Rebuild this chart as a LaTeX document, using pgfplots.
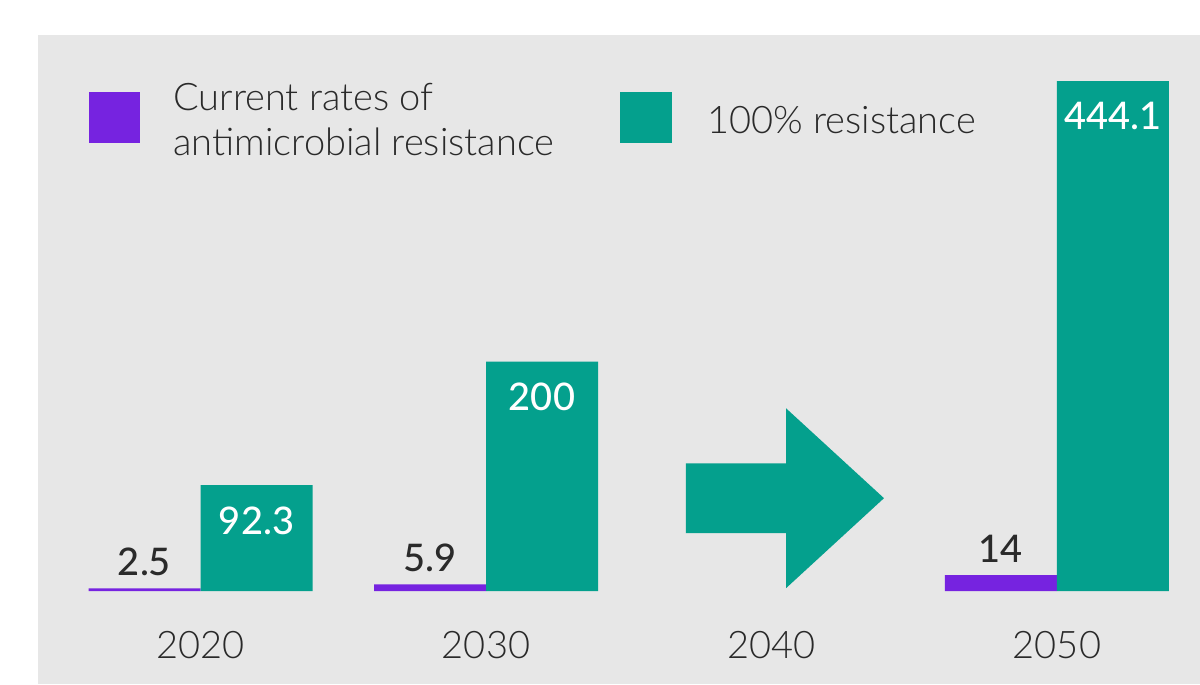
\documentclass[border=0pt]{standalone}
\usepackage{fontspec}
\setmainfont{Lato Light}
\newfontfamily\medfont{Lato Medium}
\usepackage{pgfplots}
\pgfplotsset{compat=1.18}
\definecolor{amrpurple}{HTML}{7623E0}
\definecolor{amrgreen}{HTML}{04A08D}
\definecolor{panelgray}{HTML}{E7E7E7}
\definecolor{labelgray}{HTML}{2A2A2A}

\begin{document}
\begin{tikzpicture}
% white page with the grey panel behind the chart
\fill[white] (0,0) rectangle (600pt,342pt);
\fill[panelgray] (19pt,0) rectangle (600pt,324.5pt);
\begin{axis}[
  at={(0,0)}, anchor=south west,
  scale only axis, width=600pt, height=342pt,
  xmin=-0.7023, xmax=3.5009, ymin=-80.97, ymax=514.6,
  axis line style={draw=none},
  ytick=\empty,
  xtick={0,1,2,3}, xticklabels={2020,2030,2040,2050},
  major tick length=0pt,
  xticklabel style={anchor=base, yshift=13pt, font=\fontsize{19}{22}\selectfont, text=labelgray},
  clip=false,
]
% current rates of antimicrobial resistance
\addplot[ybar, bar width=0.3923, bar shift=-0.19615, fill=amrpurple, draw=none,
  point meta=explicit symbolic, nodes near coords,
  every node near coord/.append style={anchor=base, inner sep=0pt, yshift=6.5pt, xshift=-28pt,
    font=\medfont\fontsize{19}{22}\selectfont, text=labelgray}]
  coordinates {(0,2.5)[2.5] (1,5.9)[5.9] (3,14)[14]};

% 100% resistance
\addplot[ybar, bar width=0.3923, bar shift=0.19615, fill=amrgreen, draw=none,
  point meta=explicit symbolic, nodes near coords,
  every node near coord/.append style={anchor=north, inner sep=0pt, yshift=-10.5pt, xshift=28pt,
    font=\medfont\fontsize{19}{22}\selectfont, text=white}]
  coordinates {(0,92.3)[92.3] (1,200)[200] (3,444.1)[444.1]};

% arrow standing in for 2040
\addplot[fill=amrgreen, draw=none] coordinates {
  (1.7005,50.5) (1.7005,111.4) (2.0508,111.4) (2.0508,159.3)
  (2.3940,81.0) (2.0508,2.6) (2.0508,50.5)};

% legend
\fill[amrpurple] (rel axis cs:0.07417,0.7909) rectangle (rel axis cs:0.11667,0.8655);
\fill[amrgreen] (rel axis cs:0.5167,0.7909) rectangle (rel axis cs:0.56,0.8655);
\node[anchor=base west, inner sep=0pt, font=\fontsize{19}{22}\selectfont, text=labelgray]
  at (rel axis cs:0.14417,0.8392) {Current rates of};
\node[anchor=base west, inner sep=0pt, font=\fontsize{19}{22}\selectfont, text=labelgray]
  at (rel axis cs:0.14417,0.7734) {antimicrobial resistance};
\node[anchor=base west, inner sep=0pt, font=\fontsize{19}{22}\selectfont, text=labelgray]
  at (rel axis cs:0.5892,0.8056) {100\% resistance};
\end{axis}
\end{tikzpicture}
\end{document}
